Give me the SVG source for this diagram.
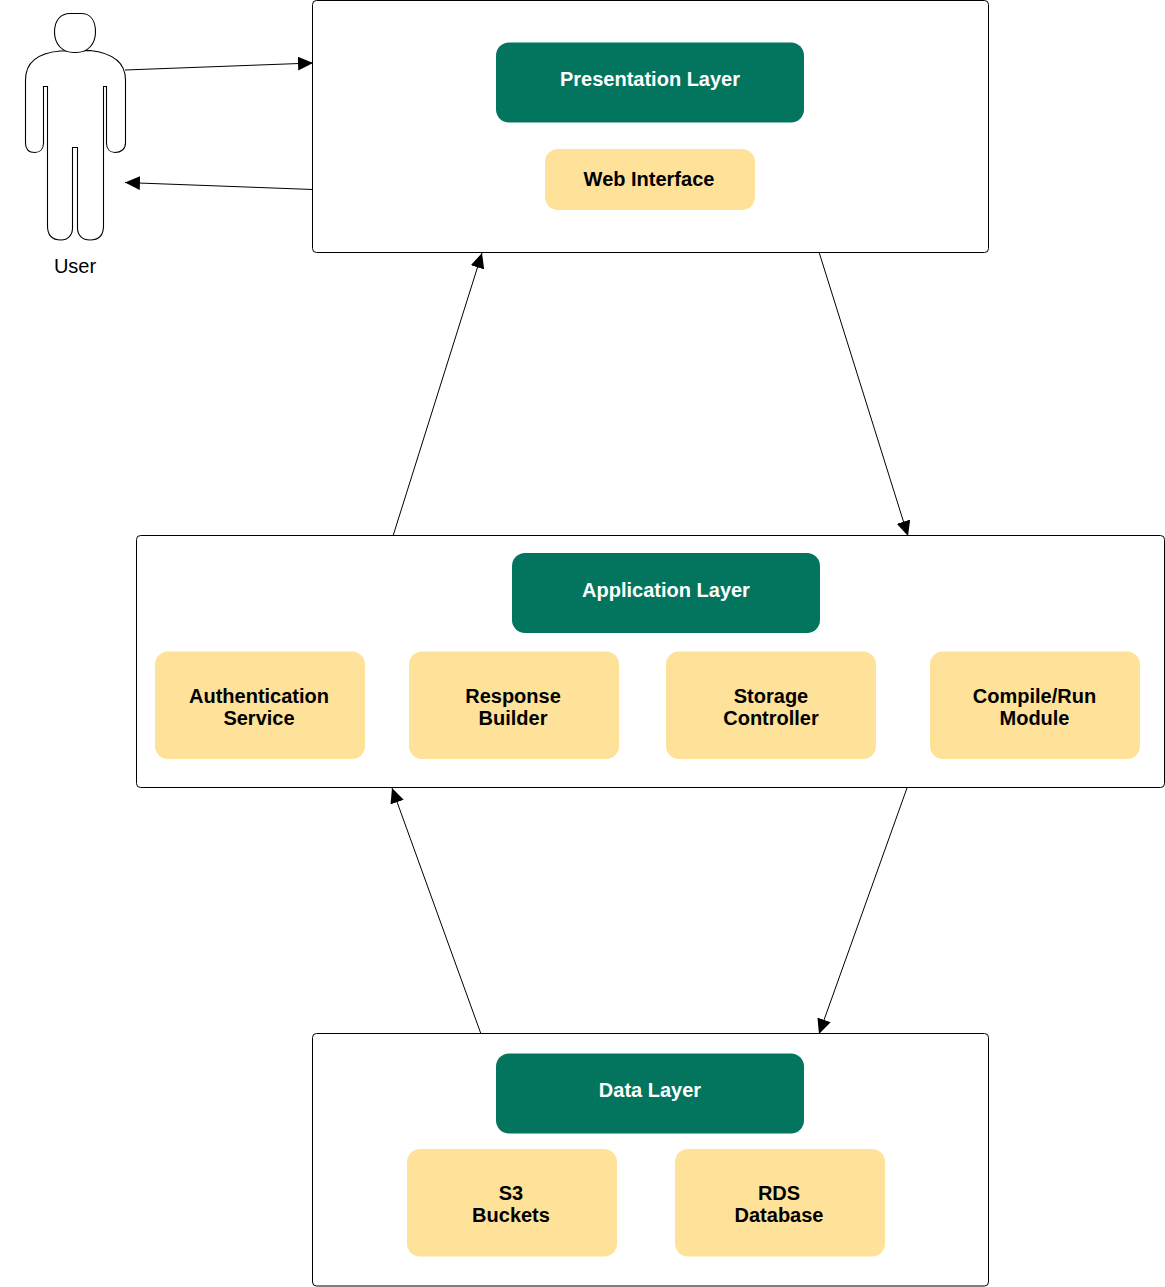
<svg xmlns="http://www.w3.org/2000/svg" width="1165" height="1287" viewBox="0 0 1165 1287">
<style>
.c{fill:#fff;stroke:#000;stroke-width:1}
.g{fill:#03755e}
.y{fill:#ffe299}
.o{fill:#fff;stroke:#000;stroke-width:1.100}
text{font-family:"Liberation Sans",Arial,sans-serif;font-size:20px;font-weight:bold;text-anchor:middle}
.w{fill:#fff}
.b{fill:#000}
.u{font-weight:normal;font-size:20px;fill:#000}
.l{fill:none;stroke:#000;stroke-width:1}
</style>
<defs><marker id="a" markerUnits="userSpaceOnUse" markerWidth="16" markerHeight="14" refX="15" refY="7" orient="auto"><path d="M0 0L15 7L0 14Z" fill="#000"/></marker></defs>
<rect width="1165" height="1287" fill="#fff"/>
<g id="presentation">
<rect class="c" x="312.500" y="0.500" width="676" height="252" rx="4"/>
<rect class="g" x="496" y="42.500" width="308" height="80" rx="13"/>
<text class="w" x="650" y="86">Presentation Layer</text>
<rect class="y" x="545" y="149" width="210" height="61" rx="13"/>
<text class="b" x="649" y="186">Web Interface</text>
</g>
<g id="application">
<rect class="c" x="136.500" y="535.500" width="1028" height="252" rx="4"/>
<rect class="g" x="512" y="553" width="308" height="80" rx="13"/>
<text class="w" x="666" y="597">Application Layer</text>
<rect class="y" x="155" y="651.500" width="210" height="107.500" rx="13"/>
<text class="b" x="259" y="703">Authentication</text><text class="b" x="259" y="725">Service</text>
<rect class="y" x="409" y="651.500" width="210" height="107.500" rx="13"/>
<text class="b" x="513" y="703">Response</text><text class="b" x="513" y="725">Builder</text>
<rect class="y" x="666" y="651.500" width="210" height="107.500" rx="13"/>
<text class="b" x="771" y="703">Storage</text><text class="b" x="771" y="725">Controller</text>
<rect class="y" x="930" y="651.500" width="210" height="107.500" rx="13"/>
<text class="b" x="1034.500" y="703">Compile/Run</text><text class="b" x="1034.500" y="725">Module</text>
</g>
<g id="data">
<rect class="c" x="312.500" y="1033.500" width="676" height="252.500" rx="4"/>
<rect class="g" x="496" y="1053.500" width="308" height="80" rx="13"/>
<text class="w" x="650" y="1097">Data Layer</text>
<rect class="y" x="407" y="1149" width="210" height="107.500" rx="13"/>
<text class="b" x="511" y="1200">S3</text><text class="b" x="511" y="1222">Buckets</text>
<rect class="y" x="675" y="1149" width="210" height="107.500" rx="13"/>
<text class="b" x="779" y="1200">RDS</text><text class="b" x="779" y="1222">Database</text>
</g>
<g id="user">
<path class="o" d="M60 51C38 53 25.500 62 25.500 80V143C25.500 149 29 152.500 35 152.500C40 152.500 43.500 149 43.500 143V86.500H47.500V226C47.500 235 52 240 61 240C68 240 72.500 235 72.500 228V147.500H77.500V228C77.500 235 82 240 90 240C99 240 103.500 235 103.500 226V86.500H106.500V143C106.500 149 110 152.500 115 152.500C121 152.500 125.500 149 125.500 143V80C125.500 62 112 53 90 50.500Z"/>
<path class="o" d="M70 13.500H81C90 13.500 95.500 20 95.500 32C95.500 44 88 52.500 76 52.500H74C62 52.500 54.500 44 54.500 32C54.500 20 61 13.500 70 13.500Z"/>
<text class="u" x="75" y="273">User</text>
</g>
<g id="connectors">
<path class="l" marker-end="url(#a)" d="M125 70L313 63"/>
<path class="l" marker-end="url(#a)" d="M313 189.500L125 182.500"/>
<path class="l" marker-end="url(#a)" d="M393 536L482 253"/>
<path class="l" marker-end="url(#a)" d="M819 252L908 536"/>
<path class="l" marker-end="url(#a)" d="M481 1034L392 788"/>
<path class="l" marker-end="url(#a)" d="M907 788L819 1034"/>
</g>
</svg>
